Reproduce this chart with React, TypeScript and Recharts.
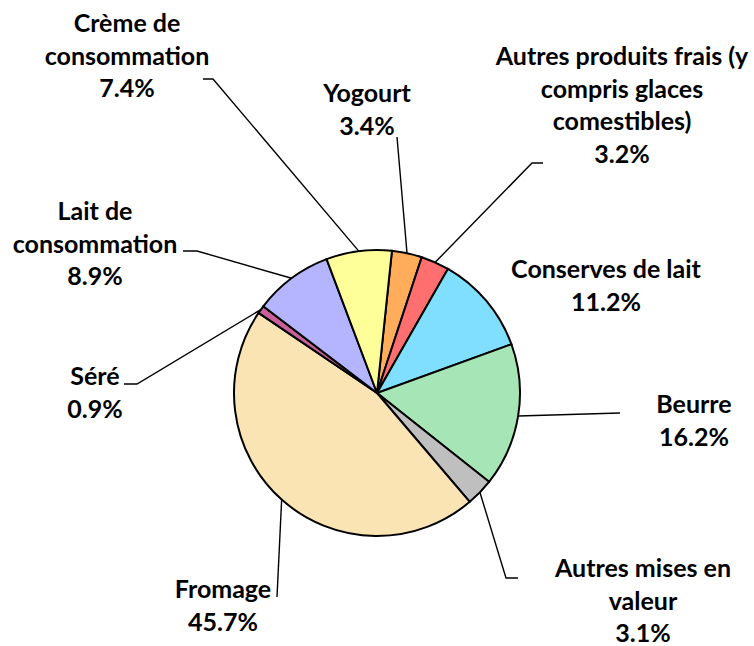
import React from 'react';
import { PieChart, Pie, Cell } from 'recharts';

// slices in clockwise order, starting just right of 12 o'clock
const categories = [
  'Yogourt',
  'Autres produits frais (y\ncompris glaces\ncomestibles)',
  'Conserves de lait',
  'Beurre',
  'Autres mises en\nvaleur',
  'Fromage',
  'Séré',
  'Lait de\nconsommation',
  'Crème de\nconsommation',
];
const shares = [3.4, 3.2, 11.2, 16.2, 3.1, 45.7, 0.9, 8.9, 7.4];

const colors = [
  '#FFAD5B',
  '#FF6F6F',
  '#80DFFF',
  '#A6E5B5',
  '#BFBFBF',
  '#FAE4B4',
  '#C8609A',
  '#B4B4FF',
  '#FFFF99',
];

// where each label sits (centre x, first baseline) and the leader's extra points
const labelLayout = [
  { x: 367, y: 102, line: [[397, 137]] },
  { x: 622, y: 65, line: [[532, 163], [543, 163]] },
  { x: 606, y: 278, line: [] },
  { x: 694, y: 413, line: [[620, 413]] },
  { x: 643, y: 577, line: [[506, 578], [518, 578]] },
  { x: 223, y: 598, line: [[277, 597]] },
  { x: 95, y: 385, line: [[137, 384], [124, 384]] },
  { x: 95, y: 220, line: [[197, 251], [183, 251]] },
  { x: 127, y: 32, line: [[213, 79], [203, 79]] },
];

const data = categories.map((name, i) => ({ name, value: shares[i] }));

const LINE_H = 32.5;

const renderLabel = (props: any) => {
  const { cx, cy, midAngle, outerRadius, index } = props;
  const layout = labelLayout[index];
  const rad = Math.PI / 180;
  const sx = cx + outerRadius * Math.cos(-midAngle * rad);
  const sy = cy + outerRadius * Math.sin(-midAngle * rad);
  const pts = [[sx, sy], ...layout.line];
  const lines = [...categories[index].split('\n'), `${shares[index].toFixed(1)}%`];
  return (
    <g key={`label-${index}`}>
      {layout.line.length > 0 && (
        <polyline
          points={pts.map((p) => p.join(',')).join(' ')}
          fill="none"
          stroke="#000"
          strokeWidth={1.4}
        />
      )}
      <text
        textAnchor="middle"
        fill="#000"
        style={{ fontFamily: 'Lato, sans-serif', fontWeight: 700, fontSize: 25 }}
      >
        {lines.map((l, i) => (
          <tspan key={i} x={layout.x} y={layout.y + i * LINE_H}>
            {l}
          </tspan>
        ))}
      </text>
    </g>
  );
};

export default function App() {
  return (
    <div style={{ position: 'absolute', left: 0, top: 0, width: 754, height: 646, background: '#fff' }}>
      <PieChart width={754} height={646} margin={{ top: 0, right: 0, bottom: 0, left: 0 }}>
        <Pie
          data={data}
          dataKey="value"
          nameKey="name"
          cx={377}
          cy={393}
          outerRadius={143}
          startAngle={84}
          endAngle={-276}
          label={renderLabel}
          labelLine={false}
          isAnimationActive={false}
        >
          {data.map((entry, index) => (
            <Cell key={`cell-${index}`} fill={colors[index]} stroke="#000" strokeWidth={2} />
          ))}
        </Pie>
      </PieChart>
    </div>
  );
}
